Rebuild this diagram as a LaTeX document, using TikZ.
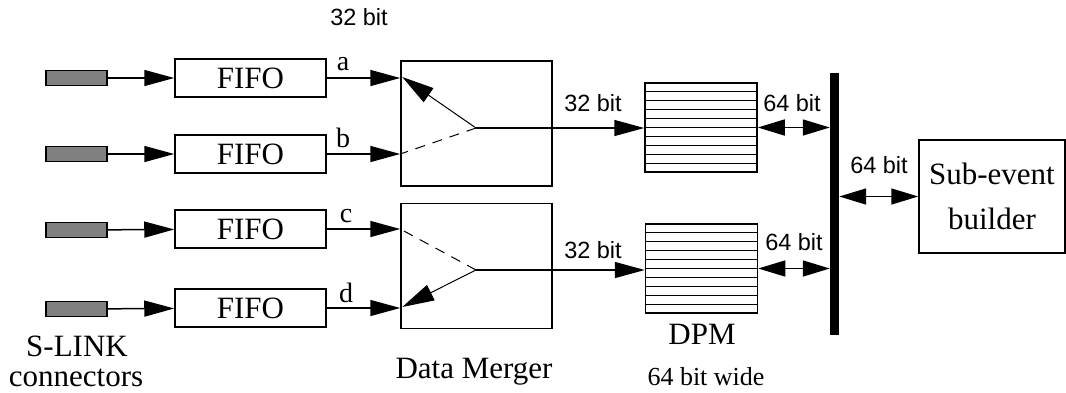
\documentclass[tikz,border=0pt]{standalone}
\usepackage{fontspec}
\setmainfont{Liberation Serif}
\setsansfont{Liberation Sans}
\usetikzlibrary{arrows.meta,calc}
\tikzset{
  tip/.style={-{Triangle[length=30pt,width=16pt]}},
  dtip/.style={{Triangle[length=27pt,width=16pt]}-{Triangle[length=27pt,width=16pt]}},
  stip/.style={-{Triangle[length=32pt,width=17pt]}},
  conn/.style={draw, line width=1.3pt, fill=black!50, minimum width=61pt, minimum height=15pt, inner sep=0pt},
  fifo/.style={draw, line width=1.5pt, minimum width=151pt, minimum height=38pt, inner sep=0pt, font=\fontsize{31}{31}\selectfont},
  merger/.style={draw, line width=1.5pt, minimum width=151pt, minimum height=125pt, inner sep=0pt},
  dpm/.style={draw, line width=1.5pt, minimum width=112pt, minimum height=89pt, inner sep=0pt},
  serif/.style={inner sep=0pt, anchor=base, font=\fontsize{31}{31}\selectfont},
  lab/.style={inner sep=0pt, anchor=base, font=\fontsize{28}{28}\selectfont},
  sans/.style={inner sep=0pt, anchor=base, font=\sffamily\fontsize{23.5}{23.5}\selectfont},
  wire/.style={line width=1.5pt},
  sw/.style={line width=1pt},
}
\begin{document}
\begin{tikzpicture}[x=1pt,y=-1pt]
\useasboundingbox (0,0) rectangle (1066,392);
% connectors
\node[conn] (c1) at (76.5,78) {};
\node[conn] (c2) at (76.5,154) {};
\node[conn] (c3) at (76.5,230) {};
\node[conn] (c4) at (76.5,309) {};
% FIFOs
\node[fifo] (f1) at (250.5,78) {FIFO};
\node[fifo] (f2) at (250.5,154) {FIFO};
\node[fifo] (f3) at (250.5,229) {FIFO};
\node[fifo] (f4) at (250.5,308) {FIFO};
\foreach \i in {1,2,3,4} \draw[wire,tip] (c\i) -- (f\i);
% mergers
\node[merger] (m1) at (476.5,123.5) {};
\node[merger] (m2) at (476.5,266) {};
\coordinate (p1) at (476,128);
\coordinate (p2) at (476,270);
\draw[wire,tip] (f1.east) -- (m1.west |- f1.east);
\draw[wire,tip] (f2.east) -- (m1.west |- f2.east);
\draw[wire,tip] (f3.east) -- (m2.west |- f3.east);
\draw[wire,tip] (f4.east) -- (m2.west |- f4.east);
\node[lab] (la) at (343,70) {a};
\node[lab] (lb) at (343,147) {b};
\node[lab] (lc) at (346,222) {c};
\node[lab] (ld) at (346,302) {d};
% switches
\draw[sw,stip] (p1) -- ($(m1.west |- f1.east)+(2,-1)$);
\draw[sw,dashed,dash pattern=on 10pt off 8pt] (p1) -- (m1.west |- f2.east);
\draw[sw,dashed,dash pattern=on 10pt off 8pt] (p2) -- (m2.west |- f3.east);
\draw[sw,stip] (p2) -- ($(m2.west |- f4.east)+(2,-1)$);
% DPMs
\node[dpm] (d1) at (701,127.5) {};
\node[dpm] (d2) at (701.5,268.5) {};
\foreach \d in {d1,d2}
  \foreach \i in {1,...,9}
    \draw[line width=1.5pt] ($(\d.north west)!\i/10!(\d.south west)$) -- ($(\d.north east)!\i/10!(\d.south east)$);
\draw[wire,tip] (p1) -- (d1.west |- p1);
\draw[wire,tip] (p2) -- (d2.west |- p2);
\node[sans] (t32a) at (593,111) {32 bit};
\node[sans] (t32b) at (593,258) {32 bit};
\node[sans] (t32top) at (359,25) {32 bit};
% bus
\node[fill=black, minimum width=9pt, minimum height=262pt, inner sep=0pt] (bus) at (834.5,204) {};
\draw[wire,dtip] (d1.east) -- (bus.west |- d1.east);
\draw[wire,dtip] (d2.east) -- (bus.west |- d2.east);
\node[sans] (t64a) at (792,111) {64 bit};
\node[sans] (t64b) at (794,250) {64 bit};
\node[sans] (t64c) at (879,173) {64 bit};
% sub-event builder
\node[draw, line width=1.5pt, minimum width=146pt, minimum height=113pt, inner sep=0pt, align=center, font=\fontsize{31}{45}\selectfont] (sub) at (992,196.5) {Sub-event\\builder};
\draw[wire,dtip] (bus.east |- sub.west) -- (sub.west);
% captions
\node[serif] (slink) at (77,356) {S-LINK};
\node[serif] (conns) at (76,386) {connectors};
\node[serif] (dm) at (474,378) {Data Merger};
\node[serif] (dpmt) at (702,344) {DPM};
\node[inner sep=0pt, anchor=base, font=\fontsize{26}{26}\selectfont] (wide) at (706,385) {64 bit wide};
\end{tikzpicture}
\end{document}
